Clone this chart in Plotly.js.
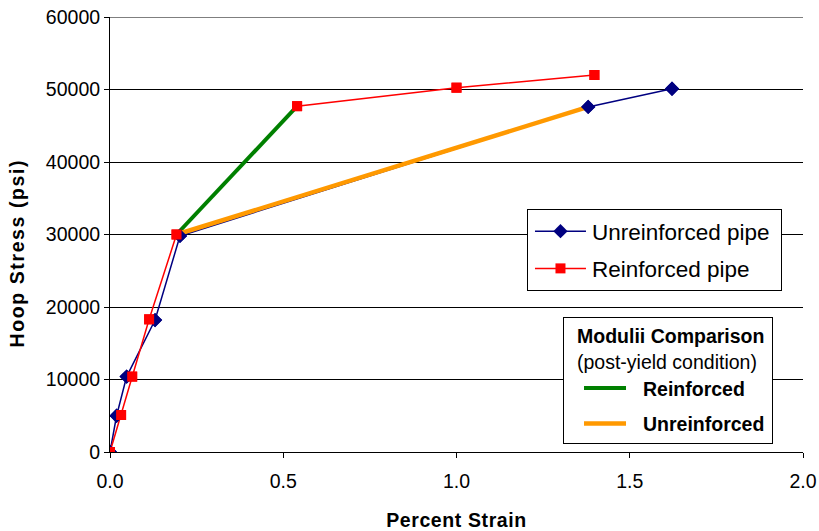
<!DOCTYPE html>
<html>
<head>
<meta charset="utf-8">
<script src="https://cdn.plot.ly/plotly-3.0.1.min.js"></script>
<style>
html,body{margin:0;padding:0;background:#fff;}
#chart{width:819px;height:531px;}
.xtitle{letter-spacing:0.6px;}
.annotation-text{letter-spacing:1.6px;}
</style>
</head>
<body>
<div id="chart"></div>
<script>
// Data
const unreinfStrain = [0, 0.019, 0.048, 0.13, 0.202, 1.38, 1.622];
const unreinfStress = [0, 5000, 10400, 18200, 29800, 47600, 50100];
const reinfStrain = [0, 0.032, 0.064, 0.113, 0.192, 0.54, 1.0, 1.398];
const reinfStress = [0, 5100, 10400, 18300, 30000, 47700, 50250, 52000];
const modReinfStrain = [0.192, 0.54];
const modReinfStress = [30000, 47700];
const modUnreinfStrain = [0.192, 1.38];
const modUnreinfStress = [30000, 47600];
const xTicks = [0, 0.5, 1.0, 1.5, 2.0];
const xTickText = ['0.0', '0.5', '1.0', '1.5', '2.0'];
const yTicks = [0, 10000, 20000, 30000, 40000, 50000, 60000];
const yTickText = ['0', '10000', '20000', '30000', '40000', '50000', '60000'];

const BLUE = '#000080', RED = '#ff0000', GREEN = '#008000', ORANGE = '#ff9900';
const font = 'Arial, "Liberation Sans", sans-serif';

const traces = [
  {x: unreinfStrain, y: unreinfStress, name: 'Unreinforced pipe&nbsp;', mode: 'lines+markers',
   line: {color: BLUE, width: 1.5}, marker: {symbol: 'diamond', size: 11, color: BLUE},
   legend: 'legend', legendgroup: 'u'},
  {x: reinfStrain, y: reinfStress, name: 'Reinforced pipe', mode: 'lines+markers',
   line: {color: RED, width: 1.5}, marker: {symbol: 'square', size: 10, color: RED},
   legend: 'legend', legendgroup: 'r'},
  {x: modReinfStrain, y: modReinfStress, name: '<b>Reinforced</b>', mode: 'lines',
   line: {color: GREEN, width: 4}, legend: 'legend2', legendgroup: 'mr'},
  {x: modUnreinfStrain, y: modUnreinfStress, name: '<b>Unreinforced</b>', mode: 'lines',
   line: {color: ORANGE, width: 4.5}, legend: 'legend2', legendgroup: 'mu'},
  {x: unreinfStrain, y: unreinfStress, mode: 'markers', showlegend: false, hoverinfo: 'skip',
   marker: {symbol: 'diamond', size: 11, color: BLUE}},
  {x: reinfStrain, y: reinfStress, mode: 'markers', showlegend: false, hoverinfo: 'skip',
   marker: {symbol: 'square', size: 10, color: RED}}
];

const layout = {
  width: 819, height: 531,
  margin: {l: 110, r: 16, t: 17, b: 79},
  paper_bgcolor: '#fff', plot_bgcolor: '#fff',
  font: {family: font, size: 19.5, color: '#000'},
  showlegend: true,
  xaxis: {
    range: [0, 2.0], tickvals: xTicks, ticktext: xTickText,
    showgrid: false, zeroline: false, showline: true, linecolor: '#000', linewidth: 1,
    ticks: 'outside', ticklen: 5, tickcolor: '#000', ticklabelstandoff: 7,
    tickfont: {family: font, size: 19.5},
    title: {text: '<b>Percent Strain</b>', font: {family: font, size: 19.5}, standoff: 22}
  },
  yaxis: {
    range: [0, 60000], tickvals: yTicks, ticktext: yTickText,
    showgrid: true, gridcolor: '#000', gridwidth: 1, zeroline: false,
    showline: true, linecolor: '#000', linewidth: 1,
    ticks: 'outside', ticklen: 5, tickcolor: '#000', ticklabelstandoff: 9.5,
    tickfont: {family: font, size: 19.5}
  },
  shapes: [
    {type: 'line', xref: 'paper', yref: 'y', x0: 0, x1: 1,
     y0: yTicks[yTicks.length - 1], y1: yTicks[yTicks.length - 1],
     line: {color: '#000', width: 1}}
  ],
  annotations: [
    {text: '<b>Hoop Stress (psi)</b>', textangle: -90, xref: 'paper', yref: 'paper',
     x: -0.1335, y: 0.4575, xanchor: 'center', yanchor: 'middle', showarrow: false,
     font: {family: font, size: 19.5}}
  ],
  legend: {
    x: 0.6017, y: 0.5586, xanchor: 'left', yanchor: 'top',
    bgcolor: '#fff', bordercolor: '#000', borderwidth: 1,
    font: {family: font, size: 22.5}, tracegroupgap: 5, itemwidth: 54
  },
  legend2: {
    x: 0.6537, y: 0.31, xanchor: 'left', yanchor: 'top',
    bgcolor: '#fff', bordercolor: '#000', borderwidth: 1,
    font: {family: font, size: 19.5}, tracegroupgap: 7, itemwidth: 69,
    title: {text: '&nbsp;&nbsp;<b>Modulii Comparison</b>&nbsp;<br>&nbsp;&nbsp;(post-yield condition)&nbsp;', side: 'top center',
            font: {family: font, size: 19.5}}
  }
};

const gd = document.getElementById('chart');
Plotly.newPlot(gd, traces, layout, {displayModeBar: false, staticPlot: true}).then(function () {
  // lengthen legend swatch lines to resemble the reference's legend keys
  function adjust(cls, x0, len) {
    gd.querySelectorAll('g.' + cls + ' g.traces').forEach(function (t) {
      t.querySelectorAll('.legendlines path').forEach(function (p) {
        p.setAttribute('d', 'M' + x0 + ',0h' + len);
      });
      t.querySelectorAll('.legendpoints path.scatterpts').forEach(function (p) {
        p.setAttribute('transform', 'translate(' + (x0 + len / 2) + ',0)');
      });
    });
  }
  adjust('legend', 7, 51);
  adjust('legend2', 20, 42);
});
</script>
</body>
</html>
